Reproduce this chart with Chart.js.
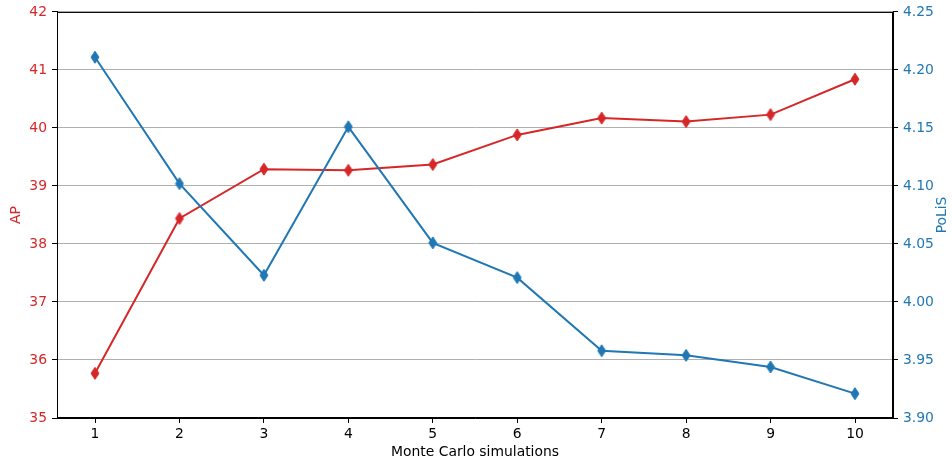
<!DOCTYPE html>
<html>
<head>
<meta charset="utf-8">
<script src="https://cdn.jsdelivr.net/npm/chart.js@4/dist/chart.umd.min.js"></script>
<style>
  html, body { margin: 0; padding: 0; background: #ffffff; }
  canvas { display: block; }
</style>
</head>
<body>
<canvas id="c" width="952" height="464"></canvas>
<script>
// ---- data ----
const categories = [1, 2, 3, 4, 5, 6, 7, 8, 9, 10];
const apValues = [35.77, 38.44, 39.29, 39.27, 39.37, 39.88, 40.17, 40.11, 40.23, 40.84];
const polisValues = [4.211, 4.102, 4.023, 4.151, 4.051, 4.021, 3.958, 3.954, 3.944, 3.921];
const xTickValues = [1, 2, 3, 4, 5, 6, 7, 8, 9, 10];
const apTickValues = [35, 36, 37, 38, 39, 40, 41, 42];
const polisTickValues = [3.90, 3.95, 4.00, 4.05, 4.10, 4.15, 4.20, 4.25];
const xRange = [0.55, 10.45];
const xTitle = 'Monte Carlo simulations';
const leftTitle = 'AP';
const rightTitle = 'PoLiS';

const RED = '#d62728';
const BLUE = '#1f77b4';
const FONT = 'DejaVu Sans';
const FS = 13.9;

function thinDiamond(color) {
  const c = document.createElement('canvas');
  c.width = 10; c.height = 14;
  const g = c.getContext('2d');
  g.fillStyle = color;
  g.strokeStyle = color;
  g.lineWidth = 1;
  g.beginPath();
  g.moveTo(5, 1);
  g.lineTo(9, 7);
  g.lineTo(5, 13);
  g.lineTo(1, 7);
  g.closePath();
  g.fill();
  g.stroke();
  return c;
}

const framePlugin = {
  id: 'frame',
  afterDraw(chart) {
    const {ctx, chartArea: a} = chart;
    ctx.save();
    ctx.strokeStyle = '#000000';
    ctx.lineWidth = 1;
    ctx.strokeRect(a.left + 0.5, a.top + 0.5, a.right - a.left - 1, a.bottom - a.top - 1);
    // right axis title, reading bottom-to-top
    ctx.fillStyle = BLUE;
    ctx.font = FS + 'px "' + FONT + '"';
    ctx.textAlign = 'center';
    ctx.textBaseline = 'middle';
    ctx.translate(942, (a.top + a.bottom) / 2);
    ctx.rotate(-Math.PI / 2);
    ctx.fillText(rightTitle, 0, 0);
    ctx.restore();
  }
};

new Chart(document.getElementById('c'), {
  type: 'line',
  data: {
    datasets: [
      {
        label: leftTitle,
        data: categories.map((x, i) => ({x: x, y: apValues[i]})),
        yAxisID: 'yAP',
        borderColor: RED,
        backgroundColor: RED,
        borderWidth: 2,
        pointStyle: thinDiamond(RED),
        tension: 0,
        order: 1
      },
      {
        label: rightTitle,
        data: categories.map((x, i) => ({x: x, y: polisValues[i]})),
        yAxisID: 'yPoLiS',
        borderColor: BLUE,
        backgroundColor: BLUE,
        borderWidth: 2,
        pointStyle: thinDiamond(BLUE),
        tension: 0,
        order: 0
      }
    ]
  },
  options: {
    responsive: false,
    animation: false,
    layout: { padding: { top: 10, left: 0, right: 0, bottom: 0 } },
    plugins: { legend: { display: false }, tooltip: { enabled: false } },
    scales: {
      x: {
        type: 'linear',
        position: 'bottom',
        min: xRange[0],
        max: xRange[1],
        afterBuildTicks: s => { s.ticks = xTickValues.map(v => ({value: v})); },
        afterFit: s => { s.height = 46; },
        grid: { display: true, drawOnChartArea: false, drawTicks: true, tickLength: 5, tickColor: '#000000' },
        border: { display: true, color: '#000000', width: 1 },
        ticks: { color: '#000000', font: { family: FONT, size: FS }, padding: 3, maxRotation: 0, callback: v => String(v) },
        title: { display: true, text: xTitle, color: '#000000', font: { family: FONT, size: FS }, padding: { top: 0, bottom: 3 } }
      },
      yAP: {
        type: 'linear',
        position: 'left',
        min: apTickValues[0],
        max: apTickValues[apTickValues.length - 1],
        afterBuildTicks: s => { s.ticks = apTickValues.map(v => ({value: v})); },
        afterFit: s => { s.width = 57; },
        grid: { display: true, drawOnChartArea: true, color: '#b0b0b0', lineWidth: 1, drawTicks: true, tickLength: 5, tickColor: '#000000' },
        border: { display: true, color: '#000000', width: 1 },
        ticks: { color: RED, font: { family: FONT, size: FS, lineHeight: 1 }, padding: 5, callback: v => String(v) },
        title: { display: true, text: leftTitle, color: RED, font: { family: FONT, size: FS }, padding: { top: 8, bottom: 0 } }
      },
      yPoLiS: {
        type: 'linear',
        position: 'right',
        min: polisTickValues[0],
        max: polisTickValues[polisTickValues.length - 1],
        afterBuildTicks: s => { s.ticks = polisTickValues.map(v => ({value: v})); },
        afterFit: s => { s.width = 59; },
        grid: { display: true, drawOnChartArea: false, drawTicks: true, tickLength: 5, tickColor: '#000000' },
        border: { display: true, color: '#000000', width: 1 },
        ticks: { color: BLUE, font: { family: FONT, size: FS, lineHeight: 1 }, padding: 5, callback: v => Number(v).toFixed(2) },
        title: { display: false }
      }
    }
  },
  plugins: [framePlugin]
});
</script>
</body>
</html>
